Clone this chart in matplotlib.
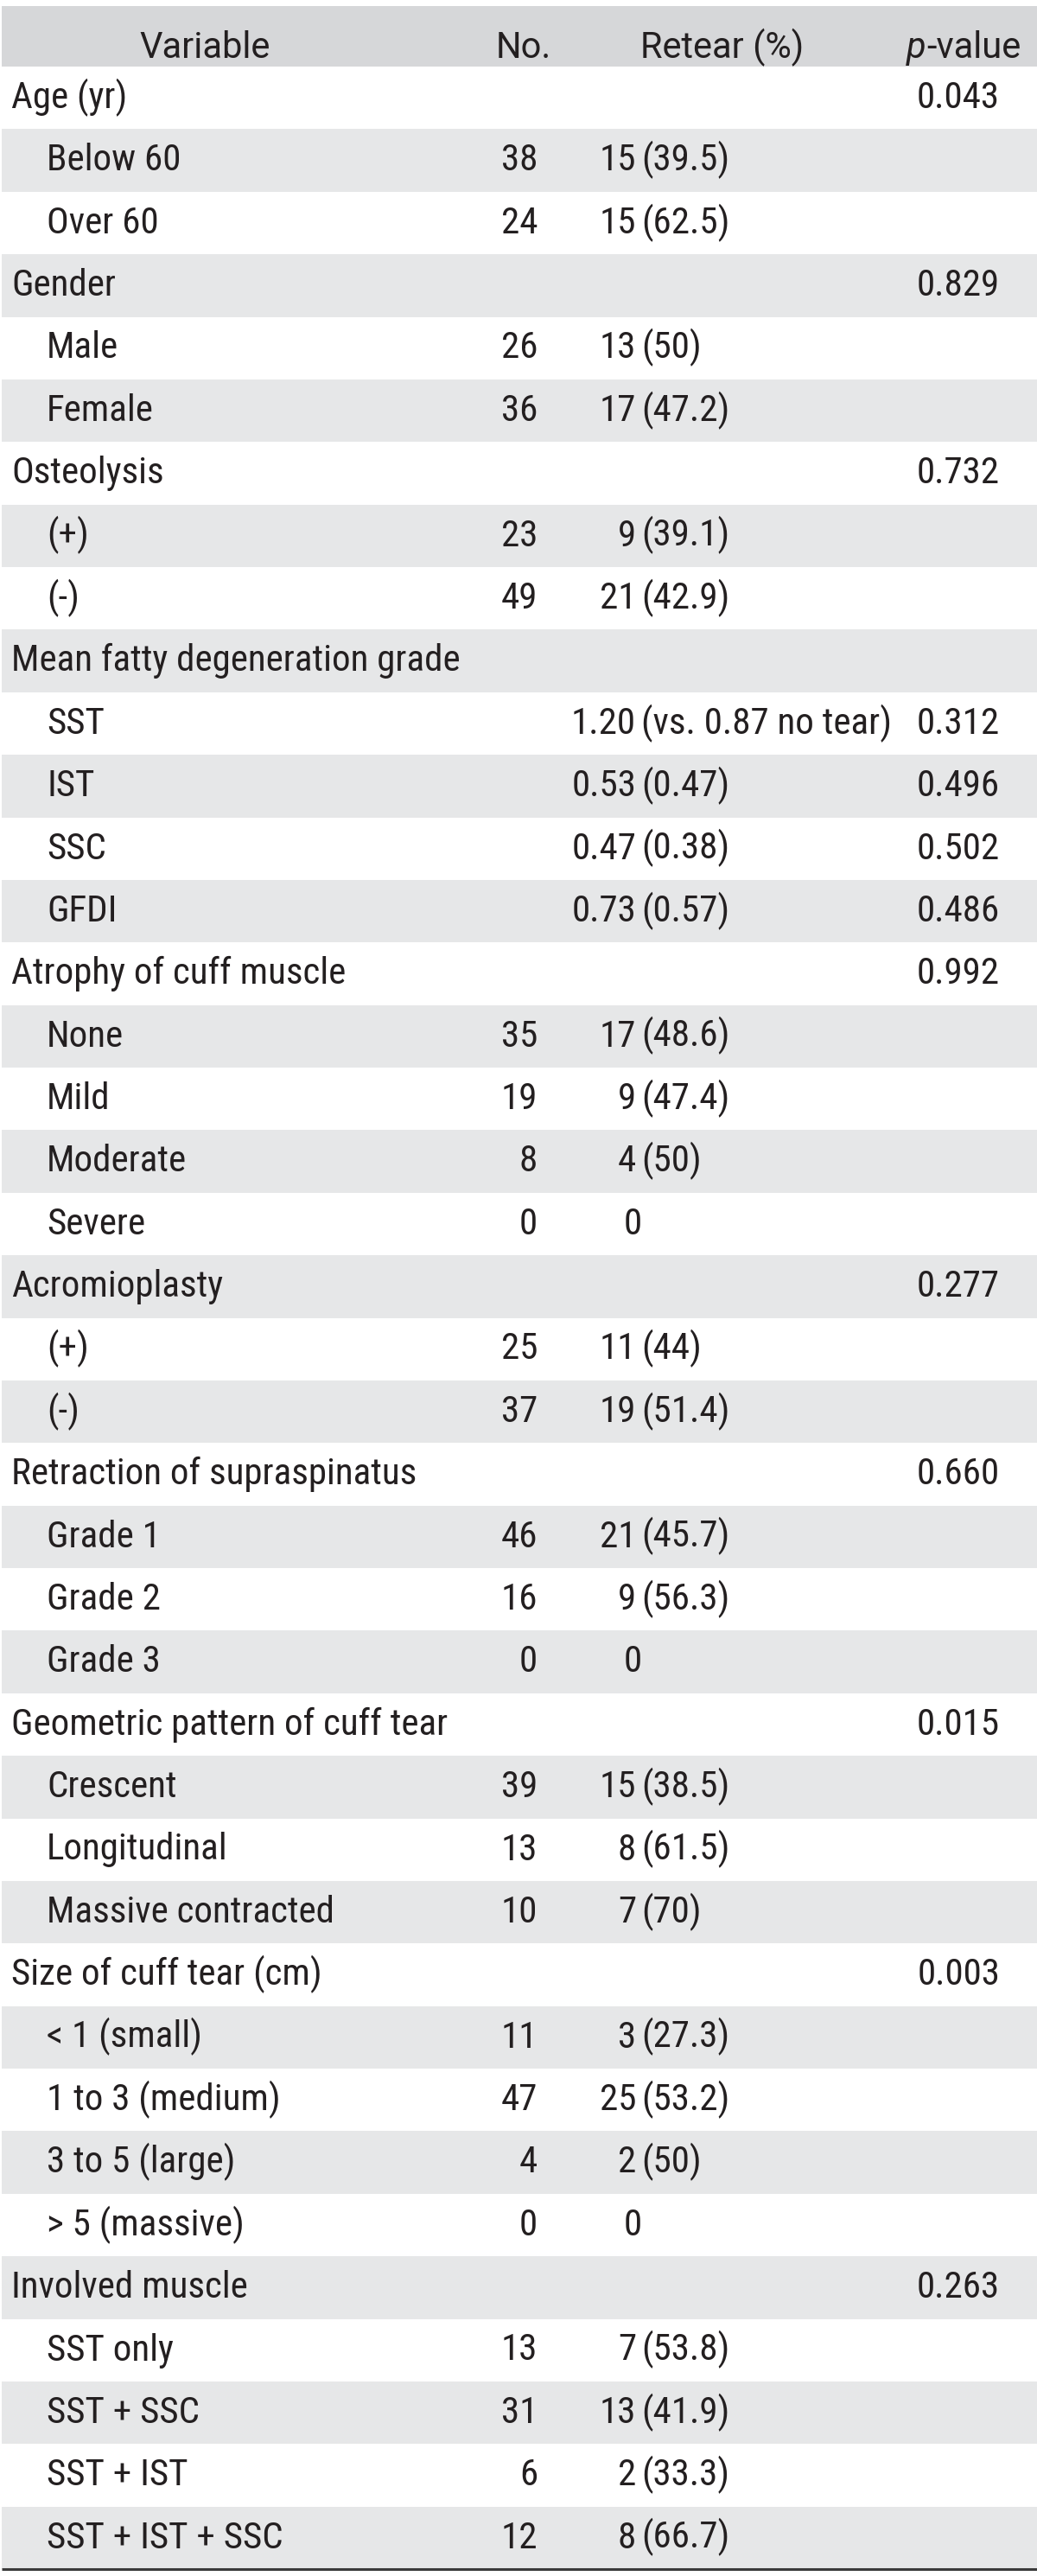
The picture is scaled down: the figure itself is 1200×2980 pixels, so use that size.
import matplotlib
matplotlib.use("Agg")
import matplotlib.pyplot as plt
from matplotlib import font_manager
from matplotlib.font_manager import FontProperties

# -----------------------------
# 1. Données du tableau
# -----------------------------
labels = [
    "Age (yr)", "Below 60", "Over 60",
    "Gender", "Male", "Female",
    "Osteolysis", "(+)", "(-)",
    "Mean fatty degeneration grade", "SST", "IST", "SSC", "GFDI",
    "Atrophy of cuff muscle", "None", "Mild", "Moderate", "Severe",
    "Acromioplasty", "(+)", "(-)",
    "Retraction of supraspinatus", "Grade 1", "Grade 2", "Grade 3",
    "Geometric pattern of cuff tear", "Crescent", "Longitudinal", "Massive contracted",
    "Size of cuff tear (cm)", "< 1 (small)", "1 to 3 (medium)", "3 to 5 (large)", "> 5 (massive)",
    "Involved muscle", "SST only", "SST + SSC", "SST + IST", "SST + IST + SSC",
]
indent = [0, 1, 1, 0, 1, 1, 0, 1, 1, 0, 1, 1, 1, 1, 0, 1, 1, 1, 1, 0,
          1, 1, 0, 1, 1, 1, 0, 1, 1, 1, 0, 1, 1, 1, 1, 0, 1, 1, 1, 1]
numbers = ["", "38", "24", "", "26", "36", "", "23", "49", "",
           "", "", "", "", "", "35", "19", "8", "0", "",
           "25", "37", "", "46", "16", "0", "", "39", "13", "10",
           "", "11", "47", "4", "0", "", "13", "31", "6", "12"]
retear = ["", "15 (39.5)", "15 (62.5)", "", "13 (50)", "17 (47.2)", "", "9 (39.1)", "21 (42.9)", "",
          "1.20 (vs. 0.87 no tear)", "0.53 (0.47)", "0.47 (0.38)", "0.73 (0.57)", "",
          "17 (48.6)", "9 (47.4)", "4 (50)", "0", "",
          "11 (44)", "19 (51.4)", "", "21 (45.7)", "9 (56.3)", "0", "",
          "15 (38.5)", "8 (61.5)", "7 (70)", "", "3 (27.3)", "25 (53.2)", "2 (50)", "0", "",
          "7 (53.8)", "13 (41.9)", "2 (33.3)", "8 (66.7)"]
pvals = ["0.043", "", "", "0.829", "", "", "0.732", "", "", "",
         "0.312", "0.496", "0.502", "0.486", "0.992", "", "", "", "", "0.277",
         "", "", "0.660", "", "", "", "0.015", "", "", "",
         "0.003", "", "", "", "", "0.263", "", "", "", ""]
headers = ["Variable", "No.", "Retear (%)"]

# -----------------------------
# 2. Police : étroite pour le corps, normale pour l'en-tête
# -----------------------------
ttf = font_manager.fontManager.ttflist


def etroite(f):
    s = str(f.stretch).lower()
    return ("Narrow" in f.name or "Condensed" in f.name
            or "condensed" in s or "narrow" in s)


def regulier(f):
    return str(f.weight).lower() in ("400", "normal", "regular", "book")


cands = [f for f in ttf if etroite(f) and f.style == "normal" and regulier(f)]
ordre = ["Liberation Sans Narrow", "Roboto Condensed", "Noto Sans", "Open Sans"]
cands.sort(key=lambda f: next((k for k, o in enumerate(ordre) if f.name.startswith(o)), 99))

if cands:
    taille = 31
    prop = FontProperties(fname=cands[0].fname, size=taille)
else:
    taille = 27
    prop = FontProperties(family="Roboto", size=taille)

prop_ent = FontProperties(family="Roboto", size=30)
prop_ent_it = FontProperties(family="Roboto", style="italic", size=30)

texte = "#231f20"
gris_entete = "#d6d7d9"
gris_ligne = "#e6e7e8"

# -----------------------------
# 3. Figure : une ligne = une unité en y, x en pixels
# -----------------------------
h = 72.375
fig = plt.figure(figsize=(12, 29.8), dpi=100)
ax = fig.add_axes([0, 0, 1, 1])
ax.set_xlim(0, 1200)
ax.set_ylim(40 + 8 / h, -77 / h)
ax.axis("off")

n = len(labels)
rangs = list(range(n))
couleurs = ["white" if i % 2 == 0 else gris_ligne for i in rangs]
ax.barh(rangs, 1198, left=2, height=1, align="edge", color=couleurs, edgecolor="none")
ax.barh([-70 / h], 1198, left=2, height=70 / h, align="edge", color=gris_entete, edgecolor="none")
ax.plot([2, 1200], [n, n], color="#3a3a3a", lw=2.2, solid_capstyle="butt")

# en-tête
y_ent = -10 / h
for x, t in zip([237, 606, 836], headers):
    ax.text(x, y_ent, t, ha="center", va="baseline", fontproperties=prop_ent, color=texte)

# p-value : "p" en italique puis "-value"
fig.canvas.draw()
rend = fig.canvas.get_renderer()
t_p = ax.text(0, y_ent, "p", ha="left", va="baseline", fontproperties=prop_ent_it, color=texte)
t_v = ax.text(0, y_ent, "-value", ha="left", va="baseline", fontproperties=prop_ent, color=texte)
px_p = t_p.get_window_extent(rend).width
px_v = t_v.get_window_extent(rend).width
x0 = 1115 - (px_p + px_v) / 2
t_p.set_x(x0)
t_v.set_x(x0 + px_p + 1)

# lignes
base = 48 / h
for i in rangs:
    y = i + base
    ax.text(54 if indent[i] else 13, y, labels[i], ha="left", va="baseline",
            fontproperties=prop, color=texte)
    if numbers[i]:
        ax.text(622, y, numbers[i], ha="right", va="baseline", fontproperties=prop, color=texte)
    if retear[i]:
        parts = retear[i].split(" ", 1)
        if len(parts) == 2:
            ax.text(736, y, parts[0], ha="right", va="baseline", fontproperties=prop, color=texte)
            ax.text(742, y, parts[1], ha="left", va="baseline", fontproperties=prop, color=texte)
        else:
            ax.text(743, y, parts[0], ha="right", va="baseline", fontproperties=prop, color=texte)
    if pvals[i]:
        ax.text(1157, y, pvals[i], ha="right", va="baseline", fontproperties=prop, color=texte)

fig.savefig("out.png", dpi=100)
